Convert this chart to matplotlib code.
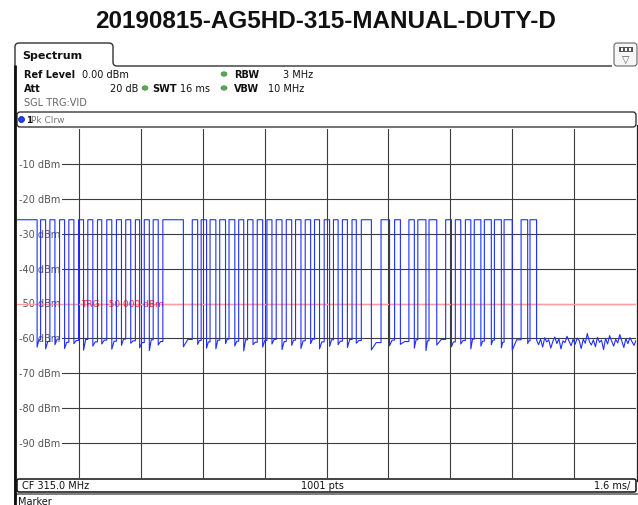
"""Спектроанализатор: развертка во времени, пакет импульсов 315 МГц."""

import matplotlib
matplotlib.use("Agg")
import matplotlib.pyplot as plt
from matplotlib.patches import FancyBboxPatch, Ellipse, Rectangle, PathPatch
from matplotlib.path import Path
import numpy as np

TITLE = "20190815-AG5HD-315-MANUAL-DUTY-D"

# time axis: 16 ms sweep, 1.6 ms/div
SWEEP_MS = 16.0
X_DIVS = [1.6, 3.2, 4.8, 6.4, 8.0, 9.6, 11.2, 12.8, 14.4]
Y_LEVELS = [-10, -20, -30, -40, -50, -60, -70, -80, -90]
Y_LABELS = ["-10 dBm", "-20 dBm", "-30 dBm", "-40 dBm", "-50 dBm",
            "-60 dBm", "-70 dBm", "-80 dBm", "-90 dBm"]
TRIGGER_DBM = -50.0

HIGH_DBM = -26.0
pulse_start_ms = [0.00, 0.61, 0.85, 1.10, 1.34, 1.59, 1.83, 2.08, 2.32, 2.57,
                  2.81, 3.06, 3.29, 3.52, 3.77, 4.53, 4.76, 4.99, 5.24, 5.48,
                  5.73, 5.96, 6.21, 6.46, 6.70, 6.96, 7.20, 7.45, 7.69, 7.94,
                  8.18, 8.41, 8.66, 8.90, 9.41, 9.76, 10.13, 10.36, 10.65, 11.08,
                  11.33, 11.59, 11.82, 12.08, 12.34, 12.59, 13.03, 13.26]
pulse_end_ms = [0.52, 0.74, 0.98, 1.23, 1.47, 1.72, 1.96, 2.19, 2.45, 2.70,
                2.94, 3.17, 3.42, 3.65, 4.30, 4.67, 4.90, 5.14, 5.39, 5.63,
                5.86, 6.10, 6.35, 6.59, 6.85, 7.10, 7.34, 7.59, 7.82, 8.08,
                8.30, 8.54, 8.77, 9.16, 9.63, 9.91, 10.27, 10.57, 10.85, 11.23,
                11.47, 11.73, 11.99, 12.26, 12.52, 12.80, 13.20, 13.43]
# low level inside each gap between pulses: dip after the falling edge, then floor
gap_dip_dbm = [-62.5, -63.0, -61.8, -62.9, -61.5, -63.4, -62.2, -61.6, -63.1, -62.0,
               -61.4, -62.7, -63.5, -61.9, -62.4, -61.7, -62.8, -63.0, -61.5, -62.2,
               -63.6, -61.8, -62.5, -61.6, -63.2, -62.0, -62.9, -61.5, -63.0, -62.3,
               -61.8, -62.6, -61.4, -63.3, -62.1, -61.7, -62.8, -63.5, -61.9, -62.4,
               -61.6, -63.0, -62.2, -61.8, -62.7, -63.4, -61.5]
gap_floor_dbm = [-60.4, -60.9, -60.2, -61.1, -60.6, -60.3, -61.0, -60.5, -60.8, -60.2,
                 -60.7, -61.2, -60.4, -60.9, -60.3, -60.6, -61.0, -60.5, -60.2, -60.8,
                 -60.4, -61.1, -60.6, -60.3, -60.9, -60.5, -60.7, -60.2, -61.0, -60.4,
                 -60.8, -60.3, -60.6, -61.2, -60.5, -60.9, -60.4, -60.7, -60.3, -61.0,
                 -60.6, -60.2, -60.8, -60.5, -61.1, -60.4, -60.7]
# noise floor after the last pulse
tail_dbm = [-60.5, -61.8, -60.2, -62.5, -59.8, -61.0, -60.4, -62.8, -60.9, -59.6,
            -61.5, -60.1, -63.0, -60.7, -61.2, -59.4, -60.8, -62.1, -60.3, -61.7,
            -59.9, -60.6, -62.9, -60.2, -61.4, -58.6, -60.9, -61.9, -60.4, -62.4,
            -59.7, -61.1, -60.5, -63.2, -60.0, -61.6, -59.2, -60.8, -62.2, -60.3,
            -61.3, -58.9, -60.7, -62.6, -60.1, -61.5, -59.8, -60.9, -62.0, -60.6]

W, H = 638, 506
fig = plt.figure(figsize=(W / 100, H / 100), dpi=100)
fig.patch.set_facecolor("white")

# pixel-space layer for the instrument frame
bg = fig.add_axes([0, 0, 1, 1], zorder=0)
bg.set_xlim(0, W)
bg.set_ylim(H, 0)
bg.axis("off")

fig.text(326 / W, 1 - 22 / H, TITLE, ha="center", va="center",
         fontsize=17.5, fontweight="bold", family="Liberation Sans", color="#111111")

# tab "Spectrum"
verts = [(15, 506), (15, 48), (15, 44), (19, 44), (109, 44), (113, 44), (113, 48),
         (113, 63), (113, 67), (117, 67), (612, 67)]
codes = [Path.MOVETO, Path.LINETO, Path.CURVE3, Path.CURVE3, Path.LINETO, Path.CURVE3,
         Path.CURVE3, Path.LINETO, Path.CURVE3, Path.CURVE3, Path.LINETO]
bg.add_patch(PathPatch(Path(verts, codes), facecolor="none", edgecolor="#333333", lw=1.0))
bg.plot([15, 15], [66, 506], color="#111111", lw=2.0, solid_capstyle="butt")
bg.text(22, 56, "Spectrum", fontsize=8, fontweight="bold", va="center", color="#111111")

# top right icon
bg.add_patch(FancyBboxPatch((614, 44), 23, 23, boxstyle="round,pad=0,rounding_size=3",
                            facecolor="#f6f6f6", edgecolor="#666666", lw=0.8))
bg.add_patch(Rectangle((619, 48), 14, 5, facecolor="#555555", edgecolor="none"))
for sx in (620.5, 624.5, 628.5):
    bg.add_patch(Rectangle((sx, 49.2), 2.6, 2.6, facecolor="white", edgecolor="none"))
bg.text(626, 60, "\u25bd", fontsize=7, ha="center", va="center", color="#555555")

# header settings
hdr = dict(fontsize=7, va="center", color="#111111")
bg.text(24, 75, "Ref Level", fontweight="bold", **hdr)
bg.text(82, 75, "0.00 dBm", **hdr)
bg.text(24, 89, "Att", fontweight="bold", **hdr)
bg.text(110, 89, "20 dB", **hdr)
bg.text(152, 89, "SWT", fontweight="bold", **hdr)
bg.text(180, 89, "16 ms", **hdr)
bg.text(234, 75, "RBW", fontweight="bold", **hdr)
bg.text(283, 75, "3 MHz", **hdr)
bg.text(234, 89, "VBW", fontweight="bold", **hdr)
bg.text(268, 89, "10 MHz", **hdr)
for gx, gy in [(224, 75), (145, 89), (224, 89)]:
    bg.add_patch(Ellipse((gx, gy), 6, 4.5, facecolor="#55a855", edgecolor="#3d7d3d", lw=0.4))
bg.text(24, 103, "SGL TRG:VID", fontsize=7, va="center", color="#666666")

# trace label box
bg.add_patch(FancyBboxPatch((17, 113), 619, 15, boxstyle="round,pad=0,rounding_size=3",
                            facecolor="white", edgecolor="#222222", lw=0.9))
bg.add_patch(Ellipse((21.5, 120.5), 6, 6, facecolor="#1f3cff", edgecolor="#10208a", lw=0.5))
bg.text(26, 120.5, "1", fontsize=6.5, fontweight="bold", va="center", color="#111111")
bg.text(31, 120.5, "Pk Clrw", fontsize=6.5, va="center", color="#777777")
bg.plot([636.5, 636.5], [126, 482], color="#222222", lw=0.9)

# bottom status bar
bg.add_patch(FancyBboxPatch((17, 480), 619, 13, boxstyle="round,pad=0,rounding_size=2",
                            facecolor="white", edgecolor="#111111", lw=1.1))
bg.text(22, 486.5, "CF 315.0 MHz", fontsize=7, va="center", color="#111111")
bg.text(322, 486.5, "1001 pts", fontsize=7, va="center", ha="center", color="#111111")
bg.text(630, 486.5, "1.6 ms/", fontsize=7, va="center", ha="right", color="#111111")
bg.add_patch(FancyBboxPatch((15, 495), 630, 20, boxstyle="round,pad=0,rounding_size=3",
                            facecolor="white", edgecolor="#333333", lw=0.9))
bg.text(18, 502, "Marker", fontsize=7, va="center", color="#111111")

# measurement diagram
ax = fig.add_axes([17 / W, 1 - 479 / H, 619 / W, 349 / H], zorder=1)
ax.set_facecolor("white")
ax.set_xlim(0, SWEEP_MS)
ax.set_ylim(-100, 0)
for s in ax.spines.values():
    s.set_visible(False)
ax.set_xticks(X_DIVS)
ax.set_yticks(Y_LEVELS)
ax.tick_params(length=0, labelbottom=False, labelleft=False)
ax.grid(True, color="#3c3c3c", lw=0.8)
ax.set_axisbelow(True)

for lvl, lab in zip(Y_LEVELS, Y_LABELS):
    ax.text(0.05, lvl, lab, fontsize=7, va="center", ha="left", color="#555555", zorder=2,
            bbox=dict(facecolor="white", edgecolor="none", pad=1.2))

ax.axhline(TRIGGER_DBM, color="#ff9c9c", lw=1.0, zorder=2.5)
ax.text(1.65, TRIGGER_DBM, "TRG  -50.000 dBm", fontsize=6.5, va="center", ha="left",
        color="#ff2a2a", zorder=3)

# build step trace from pulse edges and low levels
xs, ys = [], []
n = len(pulse_start_ms)
for i in range(n):
    s, e = pulse_start_ms[i], pulse_end_ms[i]
    if i > 0:
        xs.append(s)
        ys.append(gap_floor_dbm[i - 1])
    xs += [s, e]
    ys += [HIGH_DBM, HIGH_DBM]
    if i < n - 1:
        nxt = pulse_start_ms[i + 1]
        xs += [e, (e + nxt) / 2]
        ys += [gap_dip_dbm[i], gap_floor_dbm[i]]
tail_t = np.linspace(pulse_end_ms[-1], SWEEP_MS, len(tail_dbm))
xs += list(tail_t)
ys += tail_dbm

ax.plot(xs, ys, color="#1f2fff", lw=0.8, zorder=4)

fig.savefig("out.png", dpi=100, facecolor=fig.get_facecolor())
